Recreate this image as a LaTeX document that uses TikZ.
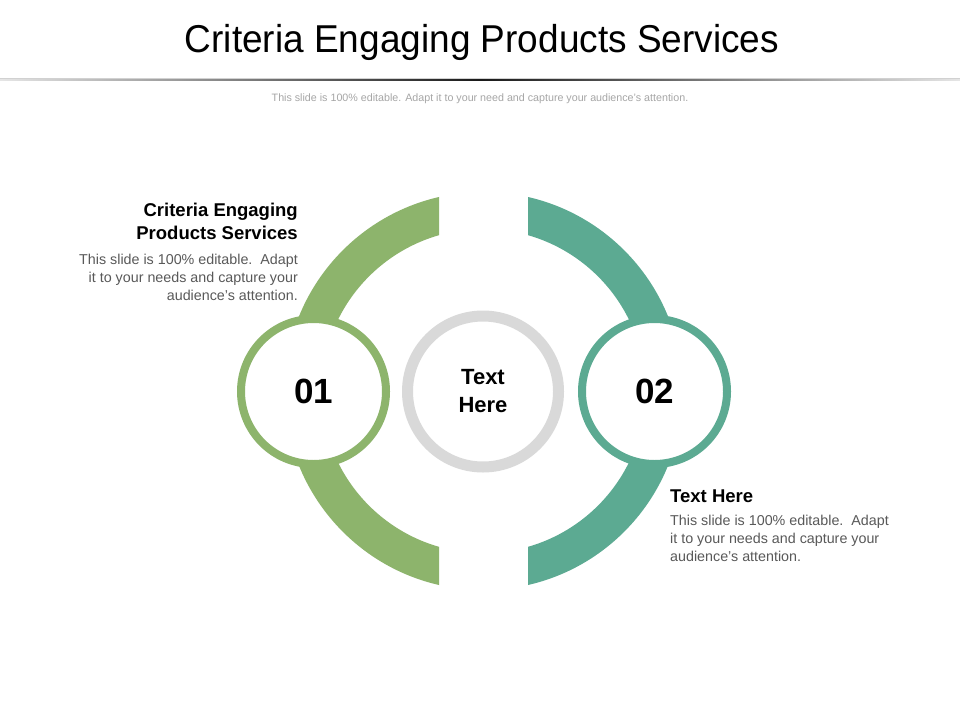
\documentclass[tikz,border=0pt]{standalone}
\usepackage{fontspec}
\setmainfont{Liberation Sans}
\definecolor{cgreen}{RGB}{141,180,108}
\definecolor{cteal}{RGB}{92,170,146}
\definecolor{cgray}{RGB}{217,217,217}
\definecolor{ctext}{RGB}{89,89,89}
\definecolor{csub}{RGB}{166,166,166}
\tikzset{
  bodyl/.style={anchor=base east, inner sep=0pt, text=ctext, font=\fontsize{14.3}{17}\selectfont},
  bodyr/.style={anchor=base west, inner sep=0pt, text=ctext, font=\fontsize{14.3}{17}\selectfont},
  headl/.style={anchor=base east, inner sep=0pt, font=\fontsize{18.5}{22}\selectfont\bfseries},
  headr/.style={anchor=base west, inner sep=0pt, font=\fontsize{18.5}{22}\selectfont\bfseries},
  numc/.style={circle, fill=white, minimum size=145pt, line width=8pt, inner sep=0pt, font=\fontsize{35}{40}\selectfont\bfseries},
}
\begin{document}
\begin{tikzpicture}[x=1pt,y=-1pt]
\useasboundingbox (0,0) rectangle (960,720);
\fill[white] (0,0) rectangle (960,720);
% title
\node[anchor=base, inner sep=0pt, font=\fontsize{37}{40}\selectfont, yscale=1.05] (title) at (482,52) {Criteria Engaging Products Services};
\fill[black!18] (0,78) rectangle (960,79.3);
\shade[left color=black!10, right color=black!10, middle color=black!90] (0,79.3) rectangle (960,80.6);
\node[anchor=base, inner sep=0pt, text=csub, font=\fontsize{10.7}{12}\selectfont] (sub) at (480,101) {This slide is 100\% editable. Adapt it to your need and capture your audience's attention.};
% big arcs
\begin{scope}
\clip (0,0) rectangle (439,720);
\fill[cgreen, even odd rule] (483.5,391) circle (199pt) (483.5,391) circle (162pt);
\end{scope}
\begin{scope}
\clip (528,0) rectangle (960,720);
\fill[cteal, even odd rule] (483.5,391) circle (199pt) (483.5,391) circle (162pt);
\end{scope}
% circles
\node[numc, draw=cgreen] (c1) at (313.5,391.5) {01};
\node[numc, draw=cteal] (c2) at (654.5,391.5) {02};
\node[circle, draw=cgray, fill=white, line width=11pt, minimum size=151pt, inner sep=0pt, align=center, font=\fontsize{22}{28}\selectfont\bfseries] (cc) at (483,391.5) {Text\\Here};
% left text
\node[headl] (lh1) at (298,216) {Criteria Engaging};
\node[headl] (lh2) at (298,239) {Products Services};
\node[bodyl] (lb1) at (298,264) {This slide is 100\% editable.\ \ Adapt};
\node[bodyl] (lb2) at (298,282) {it to your needs and capture your};
\node[bodyl] (lb3) at (298,300) {audience's attention.};
% right text
\node[headr] (rh1) at (670,502) {Text Here};
\node[bodyr] (rb1) at (670,525) {This slide is 100\% editable.\ \ Adapt};
\node[bodyr] (rb2) at (670,543) {it to your needs and capture your};
\node[bodyr] (rb3) at (670,561) {audience's attention.};
\end{tikzpicture}
\end{document}
